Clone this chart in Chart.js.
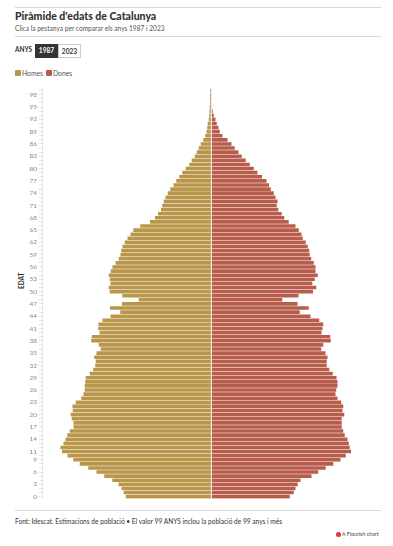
<!DOCTYPE html>
<html>
<head>
<meta charset="utf-8">
<script src="https://cdn.jsdelivr.net/npm/chart.js@4.4.0/dist/chart.umd.min.js"></script>
<style>
	body { margin: 0; background: #fff; font-family: Lato, "Noto Sans", sans-serif; color: #333; }
	#wrap { position: relative; width: 393px; height: 546px; overflow: hidden; }
	.rule { position: absolute; left: 15px; width: 366px; height: 1px; background: #d9d9d9; }
	#title { position: absolute; left: 15px; top: 10px; font-size: 10.5px; font-weight: 900; color: #333; white-space: nowrap; }
	#subtitle { position: absolute; left: 15px; top: 24px; font-size: 6.6px; color: #555; white-space: nowrap; }
	#anys { position: absolute; left: 15px; top: 46px; font-size: 6.5px; font-weight: bold; color: #333; }
	.btn { position: absolute; top: 44px; height: 14px; width: 23px; box-sizing: border-box; font-size: 6.6px; font-weight: bold; text-align: center; line-height: 13px; }
	#b1987 { left: 35px; background: #333; color: #fff; }
	#b2023 { left: 58px; background: #fff; color: #333; border: 1px solid #ccc; }
	.leg { position: absolute; top: 70px; font-size: 6.8px; color: #555; line-height: 7px; white-space: nowrap; }
	.sw { display: inline-block; width: 6px; height: 6px; border-radius: 1px; vertical-align: top; margin-right: 1px; }
	#edat { position: absolute; left: 18px; top: 289px; font-size: 6.5px; font-weight: bold; color: #333; transform: rotate(-90deg); transform-origin: left top; white-space: nowrap; }
	#chartBox { position: absolute; left: 0; top: 80px; width: 393px; height: 425px; }
	#source { position: absolute; left: 15px; top: 517px; font-size: 6.6px; color: #333; white-space: nowrap; }
	#flourish { position: absolute; left: 336px; top: 531px; font-size: 5.3px; color: #444; white-space: nowrap; }
	#flourish span { display: inline-block; width: 5px; height: 5px; border-radius: 50%; background: #e0333a; vertical-align: middle; margin-right: 1px; }
</style>
</head>
<body>
<div id="wrap">
	<div class="rule" style="top:7px"></div>
	<div id="title">Piràmide d'edats de Catalunya</div>
	<div id="subtitle">Clica la pestanya per comparar els anys 1987 i 2023</div>
	<div class="rule" style="top:36px"></div>
	<div id="anys">ANYS</div>
	<div class="btn" id="b1987">1987</div>
	<div class="btn" id="b2023">2023</div>
	<div class="leg" style="left:15px"><span class="sw" style="background:#b99649"></span>Homes</div>
	<div class="leg" style="left:46px"><span class="sw" style="background:#b85d4b"></span>Dones</div>
	<div id="edat">EDAT</div>
	<div id="chartBox"><canvas id="graph_piramide"></canvas></div>
	<div class="rule" style="top:510px"></div>
	<div id="source">Font: Idescat. Estimacions de població • El valor 99 ANYS inclou la població de 99 anys i més</div>
	<div id="flourish"><span></span>A Flourish chart</div>
</div>

<script>
// edats 0..99
const ages = [];
for (let i = 0; i <= 99; i++) ages.push(i);

// etiquetes visibles a l'eix
const tickAges = [0, 3, 6, 9, 11, 14, 17, 20, 23, 26, 29, 32, 35, 38, 41, 44, 47, 50, 53, 56, 59, 62, 65, 68, 71, 74, 77, 80, 83, 86, 89, 92, 95, 98];

// població 1987 - homes
const homes = [
	33900, 34700, 35600, 36800, 39300, 42500, 45600, 48900, 52300, 54900,
	57200, 59400, 60000, 58800, 58000, 57300, 56300, 54800, 54800, 55500,
	55900, 55100, 55200, 53900, 51700, 50800, 50300, 50300, 50100, 49900,
	48300, 46900, 46100, 45900, 46500, 45600, 43900, 44700, 47700, 47500,
	44400, 44900, 44800, 43200, 40000, 36100, 40200, 35400, 28700, 35300,
	40300, 40700, 40000, 40300, 40700, 39900, 39200, 38000, 36700, 36000,
	35700, 35200, 34300, 33200, 32000, 30900, 28100, 24200, 22200, 21000,
	19800, 19300, 18700, 18000, 17100, 16100, 14800, 13700, 12500, 11300,
	9900, 8500, 7500, 6300, 5500, 4700, 3900, 2900, 2100, 1600,
	1300, 1100, 700, 500, 400, 300, 200, 160, 120, 120
];

// població 1987 - dones
const dones = [
	31700, 33300, 34000, 34900, 36000, 40400, 43100, 46100, 49100, 52000,
	54100, 56200, 55700, 55300, 54800, 53700, 53100, 52500, 52500, 52500,
	53500, 52800, 53100, 52300, 50800, 50000, 50300, 50800, 50800, 50400,
	48900, 47500, 46500, 46500, 46800, 46000, 44300, 45100, 48100, 47900,
	44400, 44800, 45100, 43500, 40000, 35700, 39300, 34800, 28700, 35200,
	41000, 42300, 40700, 41700, 42900, 42000, 42000, 41300, 40300, 39700,
	39500, 38900, 38100, 36900, 36400, 35300, 34000, 31300, 29500, 28500,
	27100, 26500, 26800, 26000, 25300, 24100, 23400, 22400, 20600, 18800,
	17300, 15700, 14100, 12500, 11200, 9700, 8400, 6800, 4800, 3700,
	3200, 2500, 2000, 1300, 900, 500, 400, 400, 300, 400
];

const maxPop = 67400;

// línia central entre homes i dones
const centerLine = {
	id: "centerLine",
	afterDatasetsDraw(chart) {
		const ctx = chart.ctx;
		const area = chart.chartArea;
		const x = Math.round(chart.scales.x.getPixelForValue(0)) + 0.5;
		ctx.save();
		ctx.strokeStyle = "#f3eadb";
		ctx.lineWidth = 1;
		ctx.beginPath();
		ctx.moveTo(x, area.top);
		ctx.lineTo(x, area.bottom);
		ctx.stroke();
		ctx.restore();
	}
};

const ctx = document.getElementById("graph_piramide").getContext("2d");
const piramideChart = new Chart(ctx, {
	type: "bar",
	data: {
		labels: ages,
		datasets: [
			{
				label: "Homes",
				data: homes.map(v => -v),
				backgroundColor: "#b99649",
				barPercentage: 0.88,
				categoryPercentage: 1
			},
			{
				label: "Dones",
				data: dones,
				backgroundColor: "#b85d4b",
				barPercentage: 0.88,
				categoryPercentage: 1
			}
		]
	},
	options: {
		indexAxis: "y",
		responsive: true,
		maintainAspectRatio: false,
		animation: false,
		layout: {
			padding: { top: 8.6, bottom: 6.3, left: 0, right: 14 }
		},
		scales: {
			x: {
				display: false,
				stacked: true,
				min: -maxPop,
				max: maxPop
			},
			y: {
				stacked: true,
				reverse: true,
				afterFit: function(scale) { scale.width = 42; },
				border: { display: true, color: "#e6e6e6", width: 1 },
				grid: {
					display: true,
					drawOnChartArea: false,
					drawTicks: true,
					tickLength: 3,
					offset: false,
					color: "#e6e6e6"
				},
				ticks: {
					autoSkip: false,
					padding: 2,
					color: "#888",
					font: { family: "Lato", size: 6.5 },
					callback: function(value, index) {
						const age = ages[index];
						return tickAges.includes(age) ? String(age) : "";
					}
				}
			}
		},
		plugins: {
			legend: { display: false },
			tooltip: { enabled: false }
		}
	},
	plugins: [centerLine]
});
</script>
</body>
</html>
